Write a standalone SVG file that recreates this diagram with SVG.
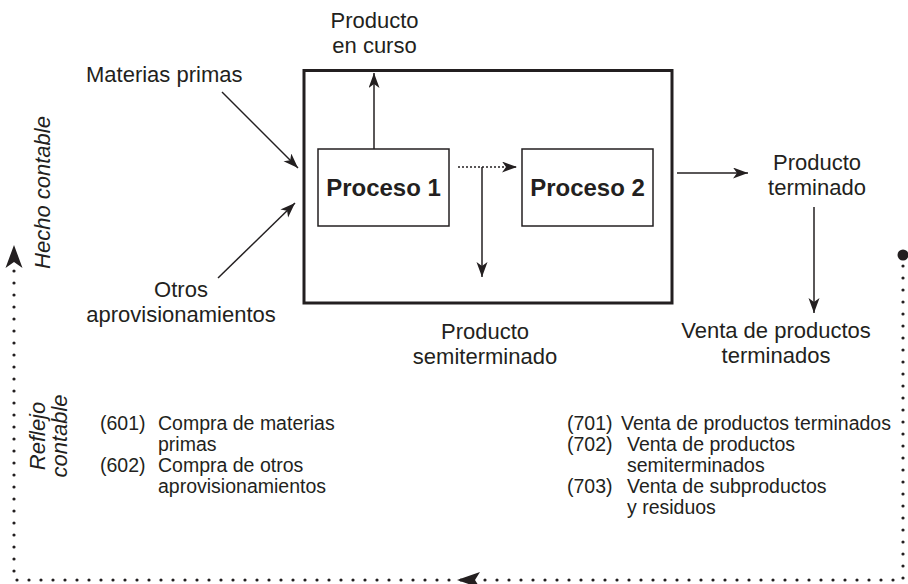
<svg xmlns="http://www.w3.org/2000/svg" width="908" height="584" viewBox="0 0 908 584">
<style>
  text { font-family: "Liberation Sans", Arial, sans-serif; fill: #231f20; }
  .lbl { font-size: 22px; }
  .c { text-anchor: middle; }
  .acc { font-size: 19.5px; }
  .proc { font-size: 24px; font-weight: bold; text-anchor: middle; }
  .it { font-size: 22px; font-style: italic; text-anchor: middle; }
  .box { fill: #fff; stroke: #231f20; stroke-width: 1.5; }
  .big { fill: #fff; stroke: #231f20; stroke-width: 3; }
  .ln { fill: none; stroke: #231f20; stroke-width: 1.5; marker-end: url(#ah); }
  .dotted { fill: none; stroke: #231f20; stroke-width: 1.5; stroke-dasharray: 2 2; marker-end: url(#ah); }
  .loop { fill: none; stroke: #231f20; stroke-width: 3.2; stroke-linecap: round; stroke-dasharray: 0 12; }
  .head { fill: #231f20; }
</style>
<defs>
  <marker id="ah" markerUnits="userSpaceOnUse" markerWidth="16" markerHeight="12" refX="15" refY="5.5" orient="auto">
    <path d="M0,0 L15,5.5 L0,11 L4,5.5 Z" fill="#231f20"/>
  </marker>
</defs>

<g id="sistema">
  <rect class="big" x="304" y="70.5" width="368" height="232.5"/>
</g>
<g id="proceso1">
  <rect class="box" x="318" y="149" width="131" height="77"/>
  <text class="proc" x="383.5" y="196">Proceso 1</text>
</g>
<g id="proceso2">
  <rect class="box" x="522" y="149" width="131" height="77"/>
  <text class="proc" x="587.5" y="196">Proceso 2</text>
</g>

<g id="materias-primas">
  <text class="lbl" x="86" y="82">Materias primas</text>
</g>
<g id="otros-aprovisionamientos">
  <text class="lbl c" x="181" y="297">Otros</text>
  <text class="lbl c" x="181" y="322">aprovisionamientos</text>
</g>
<g id="producto-en-curso">
  <text class="lbl c" x="374.5" y="28">Producto</text>
  <text class="lbl c" x="374.5" y="53">en curso</text>
</g>
<g id="producto-semiterminado">
  <text class="lbl c" x="485" y="339">Producto</text>
  <text class="lbl c" x="485" y="364">semiterminado</text>
</g>
<g id="producto-terminado">
  <text class="lbl c" x="817" y="170">Producto</text>
  <text class="lbl c" x="817" y="195">terminado</text>
</g>
<g id="venta-productos-terminados">
  <text class="lbl c" x="776" y="338">Venta de productos</text>
  <text class="lbl c" x="776" y="363">terminados</text>
</g>

<g id="hecho-contable">
  <text class="it" transform="translate(50,192.5) rotate(-90)">Hecho contable</text>
</g>
<g id="reflejo-contable">
  <text class="it" transform="translate(45,436) rotate(-90)">Reflejo</text>
  <text class="it" transform="translate(67,436) rotate(-90)">contable</text>
</g>

<g id="cuentas-compras">
  <text class="acc" x="100" y="430">(601)</text>
  <text class="acc" x="158" y="430">Compra de materias</text>
  <text class="acc" x="158" y="451">primas</text>
  <text class="acc" x="100" y="472">(602)</text>
  <text class="acc" x="158" y="472">Compra de otros</text>
  <text class="acc" x="158" y="493">aprovisionamientos</text>
</g>
<g id="cuentas-ventas">
  <text class="acc" x="567" y="430">(701)</text>
  <text class="acc" x="621" y="430">Venta de productos terminados</text>
  <text class="acc" x="567" y="451">(702)</text>
  <text class="acc" x="627" y="451">Venta de productos</text>
  <text class="acc" x="627" y="472">semiterminados</text>
  <text class="acc" x="567" y="493">(703)</text>
  <text class="acc" x="627" y="493">Venta de subproductos</text>
  <text class="acc" x="627" y="514">y residuos</text>
</g>

<g id="connectors">
  <line class="ln" x1="222" y1="92" x2="298" y2="168"/>
  <line class="ln" x1="218" y1="278" x2="295" y2="203"/>
  <line class="ln" x1="374" y1="149" x2="374" y2="73"/>
  <line class="dotted" x1="458" y1="167" x2="517" y2="167"/>
  <line class="ln" x1="482" y1="167" x2="482" y2="277"/>
  <line class="ln" x1="677" y1="173" x2="748" y2="173"/>
  <line class="ln" x1="814" y1="207" x2="814" y2="313"/>
  <circle class="head" cx="903" cy="255" r="5.5"/>
  <path class="loop" d="M903,266 L903,580 L14,580 L14,266"/>
  <path class="head" d="M457,580 L480,572 L475,580 L480,588 Z"/>
  <path class="head" d="M14,245 L22.5,268 L14,262 L5.5,268 Z"/>
</g>
</svg>
